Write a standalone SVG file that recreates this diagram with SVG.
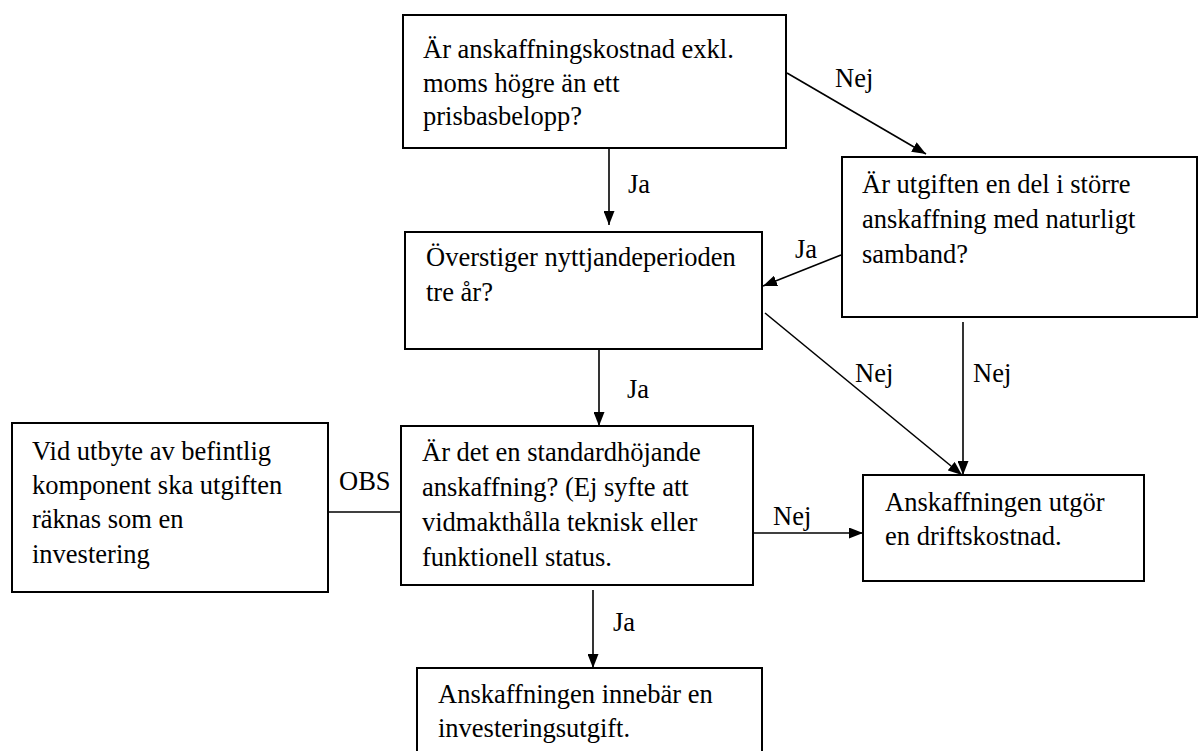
<svg xmlns="http://www.w3.org/2000/svg" width="1199" height="751" viewBox="0 0 1199 751">
<defs>
<marker id="ah" viewBox="0 0 14 11" refX="14" refY="5.5" markerWidth="14" markerHeight="11" markerUnits="userSpaceOnUse" orient="auto">
<path d="M0,0 L14,5.5 L0,11 Z" fill="#000"/>
</marker>
<style>
.box{fill:#fff;stroke:#000;stroke-width:2}
.t{font-family:"Liberation Serif","Times New Roman",serif;font-size:26.5px;fill:#000}
.c{stroke:#000;stroke-width:1.6;fill:none}
.a{marker-end:url(#ah)}
</style>
</defs>
<rect width="1199" height="751" fill="#fff"/>
<g id="connectors">
<line class="c a" x1="609" y1="148" x2="609" y2="225"/>
<line class="c a" x1="787" y1="73" x2="926" y2="154"/>
<line class="c a" x1="841" y1="255" x2="763" y2="286"/>
<line class="c a" x1="599" y1="349" x2="599" y2="426"/>
<line class="c a" x1="765" y1="313" x2="962" y2="475"/>
<line class="c a" x1="963" y1="322" x2="963" y2="475"/>
<line class="c a" x1="752" y1="533" x2="863" y2="533"/>
<line class="c a" x1="593" y1="590" x2="593" y2="668"/>
<line class="c" x1="329" y1="512" x2="401" y2="512"/>
<text class="t" x="628" y="193">Ja</text>
<text class="t" x="835" y="87">Nej</text>
<text class="t" x="795" y="258">Ja</text>
<text class="t" x="627" y="398">Ja</text>
<text class="t" x="855" y="382">Nej</text>
<text class="t" x="973" y="382">Nej</text>
<text class="t" x="773" y="525">Nej</text>
<text class="t" x="613" y="631">Ja</text>
<text class="t" x="339" y="490">OBS</text>
</g>
<g id="n1">
<rect class="box" x="403" y="15" width="383" height="133"/>
<text class="t" x="423" y="58">Är anskaffningskostnad exkl.</text>
<text class="t" x="423" y="92">moms högre än ett</text>
<text class="t" x="423" y="125">prisbasbelopp?</text>
</g>
<g id="n2">
<rect class="box" x="842" y="157" width="355" height="160"/>
<text class="t" x="862" y="193">Är utgiften en del i större</text>
<text class="t" x="862" y="228">anskaffning med naturligt</text>
<text class="t" x="862" y="263">samband?</text>
</g>
<g id="n3">
<rect class="box" x="405" y="232" width="357" height="117"/>
<text class="t" x="426" y="266">Överstiger nyttjandeperioden</text>
<text class="t" x="426" y="301">tre år?</text>
</g>
<g id="n4">
<rect class="box" x="12" y="423" width="316" height="169"/>
<text class="t" x="32" y="460">Vid utbyte av befintlig</text>
<text class="t" x="32" y="494">komponent ska utgiften</text>
<text class="t" x="32" y="528">räknas som en</text>
<text class="t" x="32" y="563">investering</text>
</g>
<g id="n5">
<rect class="box" x="401" y="426" width="352" height="159"/>
<text class="t" x="422" y="461">Är det en standardhöjande</text>
<text class="t" x="422" y="496">anskaffning? (Ej syfte att</text>
<text class="t" x="422" y="531">vidmakthålla teknisk eller</text>
<text class="t" x="422" y="566">funktionell status.</text>
</g>
<g id="n6">
<rect class="box" x="863" y="475" width="281" height="106"/>
<text class="t" x="885" y="511">Anskaffningen utgör</text>
<text class="t" x="885" y="545">en driftskostnad.</text>
</g>
<g id="n7">
<rect class="box" x="417" y="668" width="345" height="100"/>
<text class="t" x="438" y="703">Anskaffningen innebär en</text>
<text class="t" x="438" y="737">investeringsutgift.</text>
</g>
</svg>
